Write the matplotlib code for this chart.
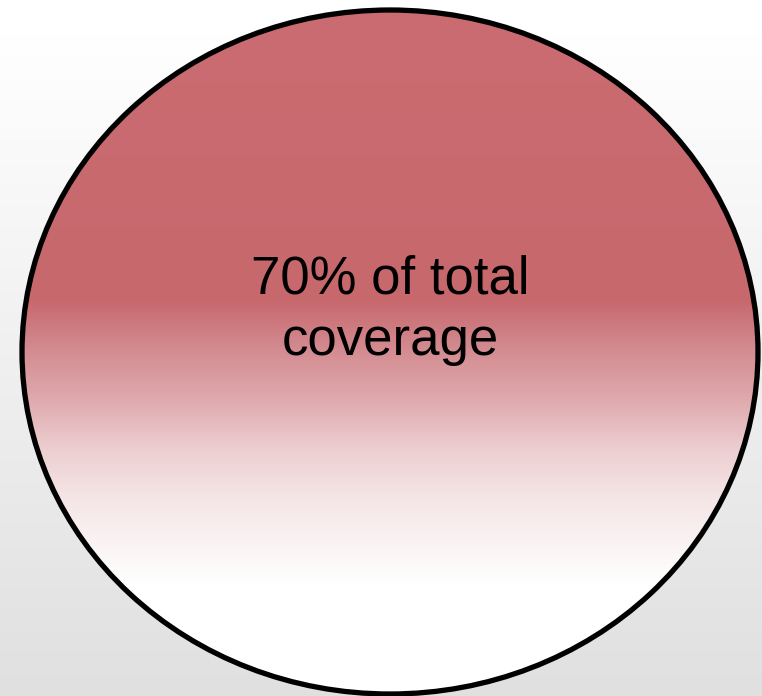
import numpy as np
import matplotlib
matplotlib.use("Agg")
import matplotlib.pyplot as plt
from matplotlib.patches import Ellipse

# data
share_pct = 70
label_suffix = "of total\ncoverage"

W, H = 762, 696
fig = plt.figure(figsize=(W / 100, H / 100), dpi=100)
ax = fig.add_axes([0, 0, 1, 1])
ax.set_xlim(0, W)
ax.set_ylim(H, 0)
ax.axis("off")

# background gradient (white top -> light grey bottom)
bg_y = np.linspace(0, 1, 256)
bg = np.clip(1.0 - (bg_y - 0.05) / 0.95 * (1 - 224 / 255), 224 / 255, 1.0)
bg_img = np.repeat(bg[:, None], 2, axis=1)
ax.imshow(np.dstack([bg_img] * 3), extent=[0, W, H, 0], aspect="auto", zorder=0)

# ellipse
cx, cy, ew, eh = 390, 352, 736, 684
top, bottom = cy - eh / 2, cy + eh / 2
stops_y = [top, 300, 350, 400, 450, 500, 585, bottom]
stops_c = [(202, 108, 113), (199, 104, 109), (211, 140, 145), (223, 170, 174),
           (237, 207, 209), (245, 230, 231), (255, 255, 255), (255, 255, 255)]
yy = np.linspace(top, bottom, 600)
cols = np.array([[np.interp(y, stops_y, [c[i] for c in stops_c]) for i in range(3)] for y in yy]) / 255
img = np.repeat(cols[:, None, :], 2, axis=1)
im = ax.imshow(img, extent=[cx - ew / 2, cx + ew / 2, bottom, top], aspect="auto", zorder=1)
ell_clip = Ellipse((cx, cy), ew, eh, transform=ax.transData, facecolor="none", edgecolor="none")
ax.add_patch(ell_clip)
im.set_clip_path(ell_clip)
ax.add_patch(Ellipse((cx, cy), ew, eh, facecolor="none", edgecolor="black", lw=3.8, zorder=2))

ax.text(cx, 310, f"{share_pct}% {label_suffix}", ha="center", va="center",
        fontsize=38, family="Liberation Sans", color="black", linespacing=1.3, zorder=3)

fig.savefig("out.png", dpi=100)
